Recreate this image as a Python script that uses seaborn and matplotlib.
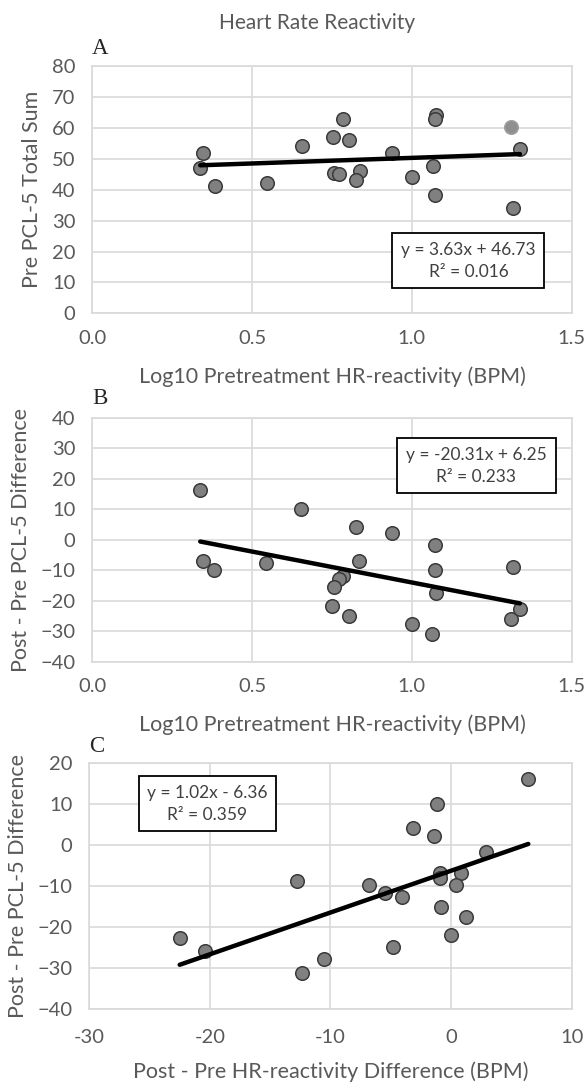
import numpy as np
import pandas as pd
import matplotlib
matplotlib.use('Agg')
import matplotlib.pyplot as plt
import seaborn as sns

# Panel A / B share the same x (log10 pretreatment HR reactivity)
log_hr = [0.338, 0.347, 0.384, 0.548, 0.655, 0.752, 0.786, 0.802, 0.757, 0.772, 0.837,
          0.825, 0.939, 1.000, 1.065, 1.072, 1.076, 1.072, 1.310, 1.338, 1.315]
pre_pcl = [47.0, 52.1, 41.1, 42.2, 54.1, 57.1, 63.1, 56.1, 45.4, 45.2, 46.2,
           43.1, 52.1, 44.2, 47.6, 38.2, 64.3, 63.1, 60.3, 53.2, 34.1]
# the one lighter point in panel A
a_light = [False] * 18 + [True, False, False]

b_x = [0.338, 0.653, 0.824, 0.938, 1.071, 0.346, 0.381, 0.545, 0.836, 1.073, 1.315,
       0.786, 0.771, 0.756, 1.075, 0.750, 0.802, 1.000, 1.063, 1.310, 1.338]
pcl_diff_b = [16.2, 10.1, 4.2, 2.2, -1.9, -6.9, -9.9, -7.8, -6.9, -9.9, -8.9,
              -11.9, -12.9, -15.4, -17.6, -21.9, -25.0, -27.8, -31.1, -26.0, -22.8]

hr_diff = [6.4, -1.2, -3.2, -1.4, 2.9, -0.9, -0.9, 0.8, 0.4, -12.8, -6.8,
           -5.5, -4.1, -0.8, 1.2, 0.0, -4.8, -22.5, -20.4, -10.5, -12.4]
pcl_diff_c = [16.0, 10.0, 4.0, 2.0, -1.8, -6.9, -8.1, -7.0, -9.9, -8.9, -9.9,
              -11.8, -12.8, -15.2, -17.6, -22.0, -24.9, -22.9, -25.9, -27.9, -31.2]

# trendline coefficients as printed on the chart
fits = {'A': (3.63, 46.73, '0.016'), 'B': (-20.31, 6.25, '0.233'), 'C': (1.02, -6.36, '0.359')}

sns.set_style('white')
plt.rcParams['font.family'] = ['Lato', 'DejaVu Sans']

txt = '#595959'
grid = '#d9d9d9'

fig = plt.figure(figsize=(5.87, 10.88), dpi=100)
axA = fig.add_axes([0.157, 0.712, 0.817, 0.227])
axB = fig.add_axes([0.157, 0.392, 0.817, 0.224])
axC = fig.add_axes([0.152, 0.073, 0.822, 0.226])


def style(ax, xlim, xticks, ylim, yticks, xfmt, ylabel, xlabel, letter, ly, xpad=12, xlpad=14):
    ax.set_xlim(xlim)
    ax.set_ylim(ylim)
    ax.set_xticks(xticks)
    ax.set_yticks(yticks)
    ax.set_xticklabels([xfmt.format(t) for t in xticks])
    ax.grid(True, color=grid, linewidth=1.2)
    ax.set_axisbelow(True)
    for s in ax.spines.values():
        s.set_color(grid)
        s.set_linewidth(1.2)
    ax.tick_params(length=0, labelsize=14.5, colors=txt, pad=12)
    ax.tick_params(axis='x', pad=xpad)
    ax.set_ylabel(ylabel, fontsize=15.5, color=txt, labelpad=7)
    ax.set_xlabel(xlabel, fontsize=15.5, color=txt, labelpad=xlpad)
    ax.text(0.0, ly, letter, transform=ax.transAxes, fontsize=16.5,
            family='Liberation Serif', ha='left', va='center')


def trend(ax, key, xs, bx, by):
    m, b, r2 = fits[key]
    xr = np.array([min(xs), max(xs)])
    sns.lineplot(x=xr, y=m * xr + b, ax=ax, color='black', linewidth=3.2, zorder=4)
    sign = '+' if b >= 0 else '-'
    label = f'y = {m:.2f}x {sign} {abs(b):.2f}\nR² = {r2}'
    ax.text(bx, by, label, fontsize=12.5, color='#404040', ha='center', va='center',
            linespacing=1.45, zorder=6,
            bbox=dict(boxstyle='square,pad=0.5', facecolor='white', edgecolor='black', linewidth=1.3))


pt = dict(s=95, linewidth=1.1, zorder=3)

# Panel A
dfA = pd.DataFrame({'x': log_hr, 'y': pre_pcl, 'light': a_light})
sns.scatterplot(data=dfA[~dfA.light], x='x', y='y', ax=axA, color='#808080', edgecolor='#3a3a3a', **pt)
sns.scatterplot(data=dfA[dfA.light], x='x', y='y', ax=axA, color='#8f8f8f', edgecolor='#a0a0a0', **pt)
trend(axA, 'A', log_hr, 1.177, 17)
style(axA, (0, 1.5), [0, 0.5, 1.0, 1.5], (0, 80), range(0, 81, 10), '{:.1f}',
      'Pre PCL-5 Total Sum', 'Log10 Pretreatment HR-reactivity (BPM)', 'A', 1.072)

# Panel B
sns.scatterplot(x=b_x, y=pcl_diff_b, ax=axB, color='#808080', edgecolor='#3a3a3a', **pt)
trend(axB, 'B', b_x, 1.202, 24.3)
style(axB, (0, 1.5), [0, 0.5, 1.0, 1.5], (-40, 40), range(-40, 41, 10), '{:.1f}',
      'Post - Pre PCL-5 Difference', 'Log10 Pretreatment HR-reactivity (BPM)', 'B', 1.08)

# Panel C
sns.scatterplot(x=hr_diff, y=pcl_diff_c, ax=axC, color='#808080', edgecolor='#3a3a3a', **pt)
trend(axC, 'C', hr_diff, -20.2, 10.0)
style(axC, (-30, 10), [-30, -20, -10, 0, 10], (-40, 20), range(-40, 21, 10), '{:.0f}',
      'Post - Pre PCL-5 Difference', 'Post - Pre HR-reactivity Difference (BPM)', 'C', 1.065,
      xpad=15, xlpad=11)

fig.text(0.54, 0.979, 'Heart Rate Reactivity', fontsize=15, color=txt, ha='center', va='center')

fig.savefig('out.png', dpi=100, facecolor='white')
